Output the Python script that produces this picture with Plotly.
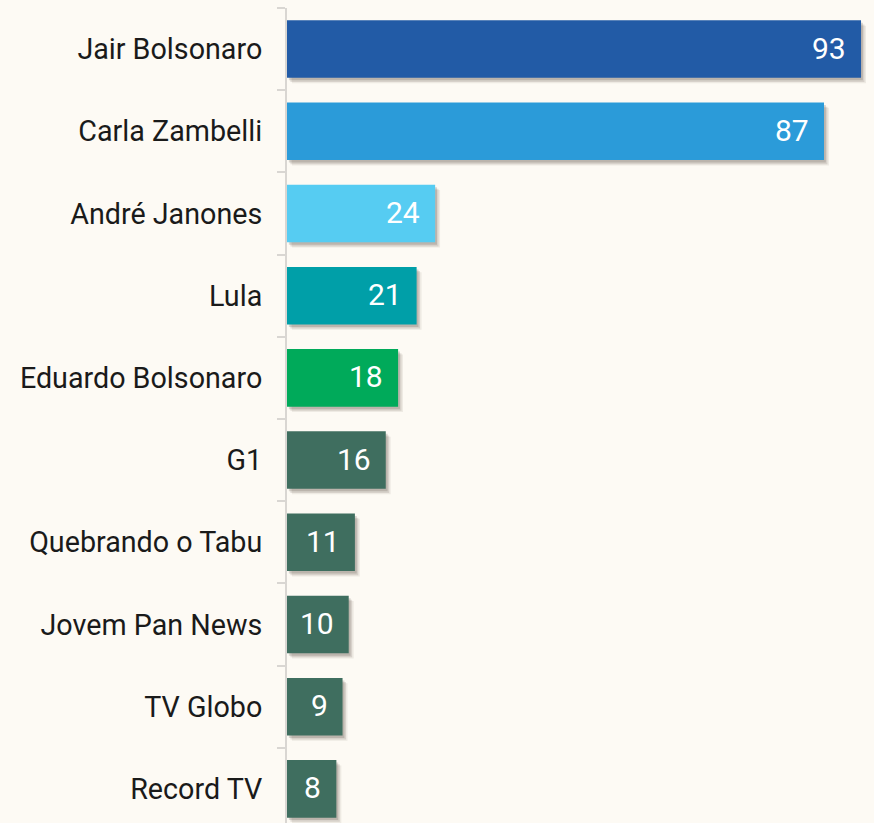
import plotly.graph_objects as go

names = ["Jair Bolsonaro", "Carla Zambelli", "André Janones", "Lula", "Eduardo Bolsonaro",
         "G1", "Quebrando o Tabu", "Jovem Pan News", "TV Globo", "Record TV"]
values = [93, 87, 24, 21, 18, 16, 11, 10, 9, 8]
colors = ["#225BA6", "#2B9BD9", "#56CCF2", "#009FA8", "#00AA5A",
          "#3F6E5F", "#3F6E5F", "#3F6E5F", "#3F6E5F", "#3F6E5F"]

BG = "#FDFAF4"
fig = go.Figure()

# soft drop shadow layers
for dx, dy, a in [(0.8, 0.065, 0.08), (0.55, 0.05, 0.13), (0.3, 0.03, 0.18)]:
    fig.add_trace(go.Bar(
        y=names, x=values, base=dx, orientation="h", width=0.7, offset=-0.35 + dy,
        marker=dict(color=f"rgba(60,50,40,{a})", line=dict(width=0)),
        hoverinfo="skip", showlegend=False))

fig.add_trace(go.Bar(
    y=names, x=values, orientation="h", width=0.7, offset=-0.35,
    marker=dict(color=colors, line=dict(width=0)), showlegend=False))

for n, v in zip(names, values):
    fig.add_annotation(x=v, y=n, text=str(v), xanchor="right", xshift=-13, yshift=1,
                       showarrow=False, font=dict(family="Roboto", size=30, color="white"))

fig.update_layout(
    width=874, height=823, barmode="overlay",
    paper_bgcolor=BG, plot_bgcolor=BG,
    margin=dict(l=287, r=0, t=8, b=0),
    font=dict(family="Roboto", size=28.7, color="#1a1a1a"),
    xaxis=dict(range=[0, 95.1], visible=False, fixedrange=True),
    yaxis=dict(categoryorder="array", categoryarray=names, range=[9.415, -0.5],
               showline=True, linecolor="#d9d6d2", linewidth=2,
               ticks="outside", tickson="boundaries", ticklen=8, tickwidth=2,
               tickcolor="#d9d6d2", ticklabelstandoff=17, showgrid=False,
               fixedrange=True,
               tickfont=dict(family="Roboto", size=28.7, color="#1a1a1a")),
)

fig.write_html("out.html", config={"displayModeBar": False, "staticPlot": True},
               post_script="document.body.style.margin='0';document.body.style.overflow='hidden';")
